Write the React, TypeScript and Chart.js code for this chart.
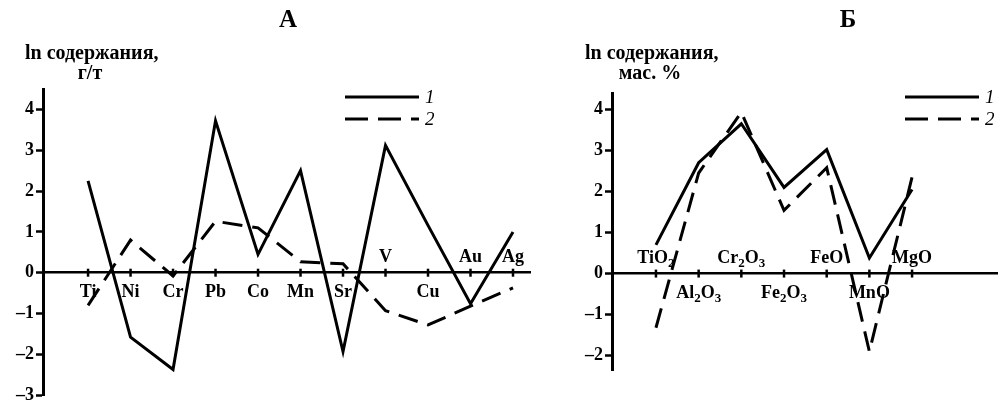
import React, { useEffect, useRef } from 'react';
import { Chart, registerables } from 'chart.js';

Chart.register(...registerables);

// ---------- data ----------
const elementsA = ['Ti', 'Ni', 'Cr', 'Pb', 'Co', 'Mn', 'Sr', 'V', 'Cu', 'Au', 'Ag'];
const series1A = [2.25, -1.58, -2.37, 3.72, 0.45, 2.5, -1.93, 3.12, 1.16, -0.76, 1.0];
const series2A = [-0.8, 0.8, -0.08, 1.26, 1.1, 0.27, 0.22, -0.93, -1.28, -0.82, -0.37];

const oxidesB = ['TiO2', 'Al2O3', 'Cr2O3', 'Fe2O3', 'FeO', 'MnO', 'MgO'];
const series1B = [0.7, 2.7, 3.65, 2.1, 3.02, 0.38, 2.05];
const series2B = [-1.32, 2.45, 3.93, 1.54, 2.58, -1.9, 2.35];

const legendLabels = ['1', '2'];
const titleA = 'А';
const titleB = 'Б';
const yTitle = 'ln содержания,';
const unitA = 'г/т';
const unitB = 'мас. %';

// labels drawn above the axis
const aboveA = ['V', 'Au', 'Ag'];
const aboveB = ['TiO2', 'Cr2O3', 'FeO', 'MgO'];

const FONT = '"Liberation Serif", "Times New Roman", serif';
const DASH = [20, 10];

type Panel = {
  title: string;
  unit: string;
  labels: string[];
  above: string[];
  s1: number[];
  s2: number[];
  xMin: number;
  xMax: number;
  yMin: number;
  yMax: number;
  width: number;
  yWidth: number;
  pad: { left: number; right: number; top: number; bottom: number };
};

function drawChem(ctx: CanvasRenderingContext2D, text: string, cx: number, cy: number) {
  const parts: { t: string; sub: boolean }[] = [];
  for (const ch of text) {
    const sub = /[0-9]/.test(ch);
    const last = parts[parts.length - 1];
    if (last && last.sub === sub) last.t += ch;
    else parts.push({ t: ch, sub });
  }
  const big = `bold 18px ${FONT}`;
  const small = `bold 13px ${FONT}`;
  let total = 0;
  for (const p of parts) {
    ctx.font = p.sub ? small : big;
    total += ctx.measureText(p.t).width;
  }
  let x = cx - total / 2;
  ctx.textAlign = 'left';
  ctx.textBaseline = 'middle';
  for (const p of parts) {
    ctx.font = p.sub ? small : big;
    ctx.fillText(p.t, x, p.sub ? cy + 5 : cy);
    x += ctx.measureText(p.t).width;
  }
}

function makeOverlay(p: Panel) {
  return {
    id: 'overlay',
    afterDraw(chart: any) {
      const ctx: CanvasRenderingContext2D = chart.ctx;
      const xs = chart.scales.x;
      const ys = chart.scales.y;
      const y0 = ys.getPixelForValue(0);
      ctx.save();
      ctx.fillStyle = '#000';
      ctx.strokeStyle = '#000';

      // x tick marks crossing the axis
      ctx.lineWidth = 2.5;
      p.labels.forEach((_, i) => {
        const px = xs.getPixelForValue(i + 1);
        ctx.beginPath();
        ctx.moveTo(px, y0 - 4);
        ctx.lineTo(px, y0 + 4);
        ctx.stroke();
      });

      // category labels
      p.labels.forEach((lab, i) => {
        const px = xs.getPixelForValue(i + 1);
        const up = p.above.includes(lab);
        drawChem(ctx, lab, px, up ? y0 - 15 : y0 + 20);
      });

      // title
      ctx.font = `bold 25px ${FONT}`;
      ctx.textAlign = 'center';
      ctx.textBaseline = 'middle';
      ctx.fillText(p.title, 288, 21);

      // y-axis title
      ctx.font = `bold 20px ${FONT}`;
      ctx.textAlign = 'left';
      ctx.fillText(yTitle, 25, 54);
      ctx.textAlign = 'center';
      ctx.fillText(p.unit, 90, 74);

      // legend
      const lx0 = 345;
      const lx1 = 419;
      ctx.lineWidth = 3;
      [97, 119].forEach((ly, k) => {
        ctx.setLineDash(k === 0 ? [] : [23, 10]);
        ctx.beginPath();
        ctx.moveTo(lx0, ly);
        ctx.lineTo(lx1, ly);
        ctx.stroke();
        ctx.setLineDash([]);
        ctx.font = `italic 19px ${FONT}`;
        ctx.textAlign = 'left';
        ctx.fillText(legendLabels[k], 425, ly + 1);
      });
      ctx.restore();
    },
  };
}

function PanelChart({ p, left }: { p: Panel; left: number }) {
  const ref = useRef<HTMLCanvasElement | null>(null);
  useEffect(() => {
    if (!ref.current) return;
    const line = {
      borderColor: '#000',
      borderWidth: 3,
      pointRadius: 0,
      tension: 0,
      fill: false,
      borderJoinStyle: 'miter' as const,
      borderCapStyle: 'butt' as const,
    };
    const chart = new Chart(ref.current, {
      type: 'line',
      data: {
        datasets: [
          { ...line, label: legendLabels[0], data: p.s1.map((y, i) => ({ x: i + 1, y })) },
          { ...line, label: legendLabels[1], borderDash: DASH, data: p.s2.map((y, i) => ({ x: i + 1, y })) },
        ],
      },
      options: {
        responsive: false,
        animation: false,
        devicePixelRatio: 1,
        layout: { padding: p.pad },
        plugins: { legend: { display: false }, tooltip: { enabled: false } },
        scales: {
          x: {
            type: 'linear',
            position: { y: 0 } as any,
            min: p.xMin,
            max: p.xMax,
            ticks: { display: false },
            grid: { display: false },
            border: { color: '#000', width: 2.5 },
            afterBuildTicks: (s: any) => {
              s.ticks = p.labels.map((_, i) => ({ value: i + 1 }));
            },
          },
          y: {
            type: 'linear',
            min: p.yMin,
            max: p.yMax,
            afterBuildTicks: (s: any) => {
              const t: { value: number }[] = [];
              for (let v = Math.ceil(p.yMin); v <= Math.floor(p.yMax); v++) t.push({ value: v });
              s.ticks = t;
            },
            afterFit: (s: any) => {
              s.width = p.yWidth;
            },
            ticks: {
              stepSize: 1,
              color: '#000',
              padding: 2,
              font: { family: FONT, size: 18, weight: 'bold' },
              callback: (v: any) => (v < 0 ? '\u2013' + Math.abs(v) : String(v)),
            },
            grid: {
              drawOnChartArea: false,
              drawTicks: true,
              tickLength: 7,
              tickWidth: 2.5,
              tickColor: '#000',
            },
            border: { color: '#000', width: 3 },
          },
        },
      },
      plugins: [makeOverlay(p)],
    });
    return () => chart.destroy();
  }, [p]);
  return (
    <canvas
      ref={ref}
      width={p.width}
      height={408}
      style={{ position: 'absolute', left, top: 0, width: p.width, height: 408 }}
    />
  );
}

const panelA: Panel = {
  title: titleA,
  unit: unitA,
  labels: elementsA,
  above: aboveA,
  s1: series1A,
  s2: series2A,
  xMin: -0.06,
  xMax: 11.4,
  yMin: -3,
  yMax: 4.5,
  width: 560,
  yWidth: 43,
  pad: { left: 0, right: 30, top: 89, bottom: 11 },
};

const panelB: Panel = {
  title: titleB,
  unit: unitB,
  labels: oxidesB,
  above: aboveB,
  s1: series1B,
  s2: series2B,
  xMin: -0.03,
  xMax: 8.99,
  yMin: -2.35,
  yMax: 4.4,
  width: 443,
  yWidth: 52,
  pad: { left: 0, right: 6, top: 93, bottom: 38 },
};

export default function App() {
  return (
    <div style={{ position: 'absolute', left: 0, top: 0, width: 1003, height: 408, background: '#fff' }}>
      <PanelChart p={panelA} left={0} />
      <PanelChart p={panelB} left={560} />
    </div>
  );
}
